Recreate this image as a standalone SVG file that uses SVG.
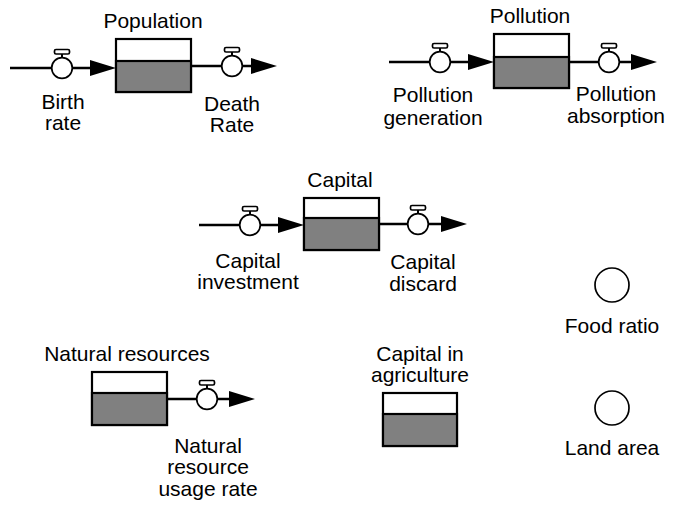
<svg xmlns="http://www.w3.org/2000/svg" width="674" height="506" viewBox="0 0 674 506">
<style>
text{font-family:"Liberation Sans",Arial,Helvetica,sans-serif;font-size:21px;fill:#000;text-anchor:middle}
.box{fill:#fff;stroke:#000;stroke-width:2.2}
.lvl{fill:#808080;stroke:#000;stroke-width:2.2}
.pipe{fill:none;stroke:#000;stroke-width:2.6}
.valve{fill:#fff;stroke:#000;stroke-width:1.7}
.cap{fill:#fff;stroke:#000;stroke-width:1.7}
.aux{fill:#fff;stroke:#000;stroke-width:1.7}
</style>
<defs>
<marker id="arr" markerUnits="userSpaceOnUse" markerWidth="26" markerHeight="16" refX="16" refY="8" orient="auto" viewBox="0 0 26 16">
<path d="M0,0 L26,8 L0,16 Z" fill="#000"/>
</marker>
<g id="valveShape">
<rect x="-1" y="-14" width="2" height="5" fill="#000"/>
<rect class="cap" x="-7.5" y="-18.5" width="15" height="4.5" rx="1.5"/>
<circle class="valve" r="10.3"/>
</g>
</defs>

<g id="connectors">
<line class="pipe" x1="10" y1="68" x2="106" y2="68" marker-end="url(#arr)"/>
<line class="pipe" x1="191" y1="66" x2="267" y2="66" marker-end="url(#arr)"/>
<line class="pipe" x1="389" y1="62" x2="484" y2="62" marker-end="url(#arr)"/>
<line class="pipe" x1="569" y1="62" x2="647" y2="62" marker-end="url(#arr)"/>
<line class="pipe" x1="199" y1="225" x2="294" y2="225" marker-end="url(#arr)"/>
<line class="pipe" x1="379" y1="224" x2="457" y2="224" marker-end="url(#arr)"/>
<line class="pipe" x1="167" y1="399" x2="245" y2="399" marker-end="url(#arr)"/>
</g>

<g id="population">
<rect class="box" x="116" y="39" width="75" height="53"/>
<rect class="lvl" x="116" y="61" width="75" height="31"/>
<text x="153" y="28">Population</text>
</g>
<g id="birth-rate">
<use href="#valveShape" x="62" y="68"/>
<text x="63" y="109"><tspan x="63" y="109">Birth</tspan><tspan x="63" y="130">rate</tspan></text>
</g>
<g id="death-rate">
<use href="#valveShape" x="232" y="66"/>
<text x="232" y="111"><tspan x="232" y="111">Death</tspan><tspan x="232" y="132">Rate</tspan></text>
</g>

<g id="pollution">
<rect class="box" x="494" y="34" width="75" height="54"/>
<rect class="lvl" x="494" y="57" width="75" height="31"/>
<text x="530" y="23">Pollution</text>
</g>
<g id="pollution-generation">
<use href="#valveShape" x="440" y="62"/>
<text x="433" y="102"><tspan x="433" y="102">Pollution</tspan><tspan x="433" y="125">generation</tspan></text>
</g>
<g id="pollution-absorption">
<use href="#valveShape" x="609" y="62"/>
<text x="616" y="101"><tspan x="616" y="101">Pollution</tspan><tspan x="616" y="123">absorption</tspan></text>
</g>

<g id="capital">
<rect class="box" x="304" y="198" width="75" height="52"/>
<rect class="lvl" x="304" y="218" width="75" height="32"/>
<text x="340" y="187">Capital</text>
</g>
<g id="capital-investment">
<use href="#valveShape" x="250" y="225"/>
<text x="248" y="268"><tspan x="248" y="268">Capital</tspan><tspan x="248" y="289">investment</tspan></text>
</g>
<g id="capital-discard">
<use href="#valveShape" x="418" y="224"/>
<text x="423" y="269"><tspan x="423" y="269">Capital</tspan><tspan x="423" y="291">discard</tspan></text>
</g>

<g id="natural-resources">
<rect class="box" x="92" y="372" width="75" height="53"/>
<rect class="lvl" x="92" y="393" width="75" height="32"/>
<text x="127" y="361">Natural resources</text>
</g>
<g id="natural-resource-usage-rate">
<use href="#valveShape" x="207" y="399"/>
<text x="208" y="453"><tspan x="208" y="453">Natural</tspan><tspan x="208" y="474">resource</tspan><tspan x="208" y="496">usage rate</tspan></text>
</g>

<g id="capital-in-agriculture">
<rect class="box" x="383" y="393" width="74" height="53"/>
<rect class="lvl" x="383" y="414" width="74" height="32"/>
<text x="420" y="361"><tspan x="420" y="361">Capital in</tspan><tspan x="420" y="382">agriculture</tspan></text>
</g>

<g id="food-ratio">
<circle class="aux" cx="612" cy="285" r="17"/>
<text x="612" y="333">Food ratio</text>
</g>
<g id="land-area">
<circle class="aux" cx="612" cy="408" r="17"/>
<text x="612" y="455">Land area</text>
</g>
</svg>
